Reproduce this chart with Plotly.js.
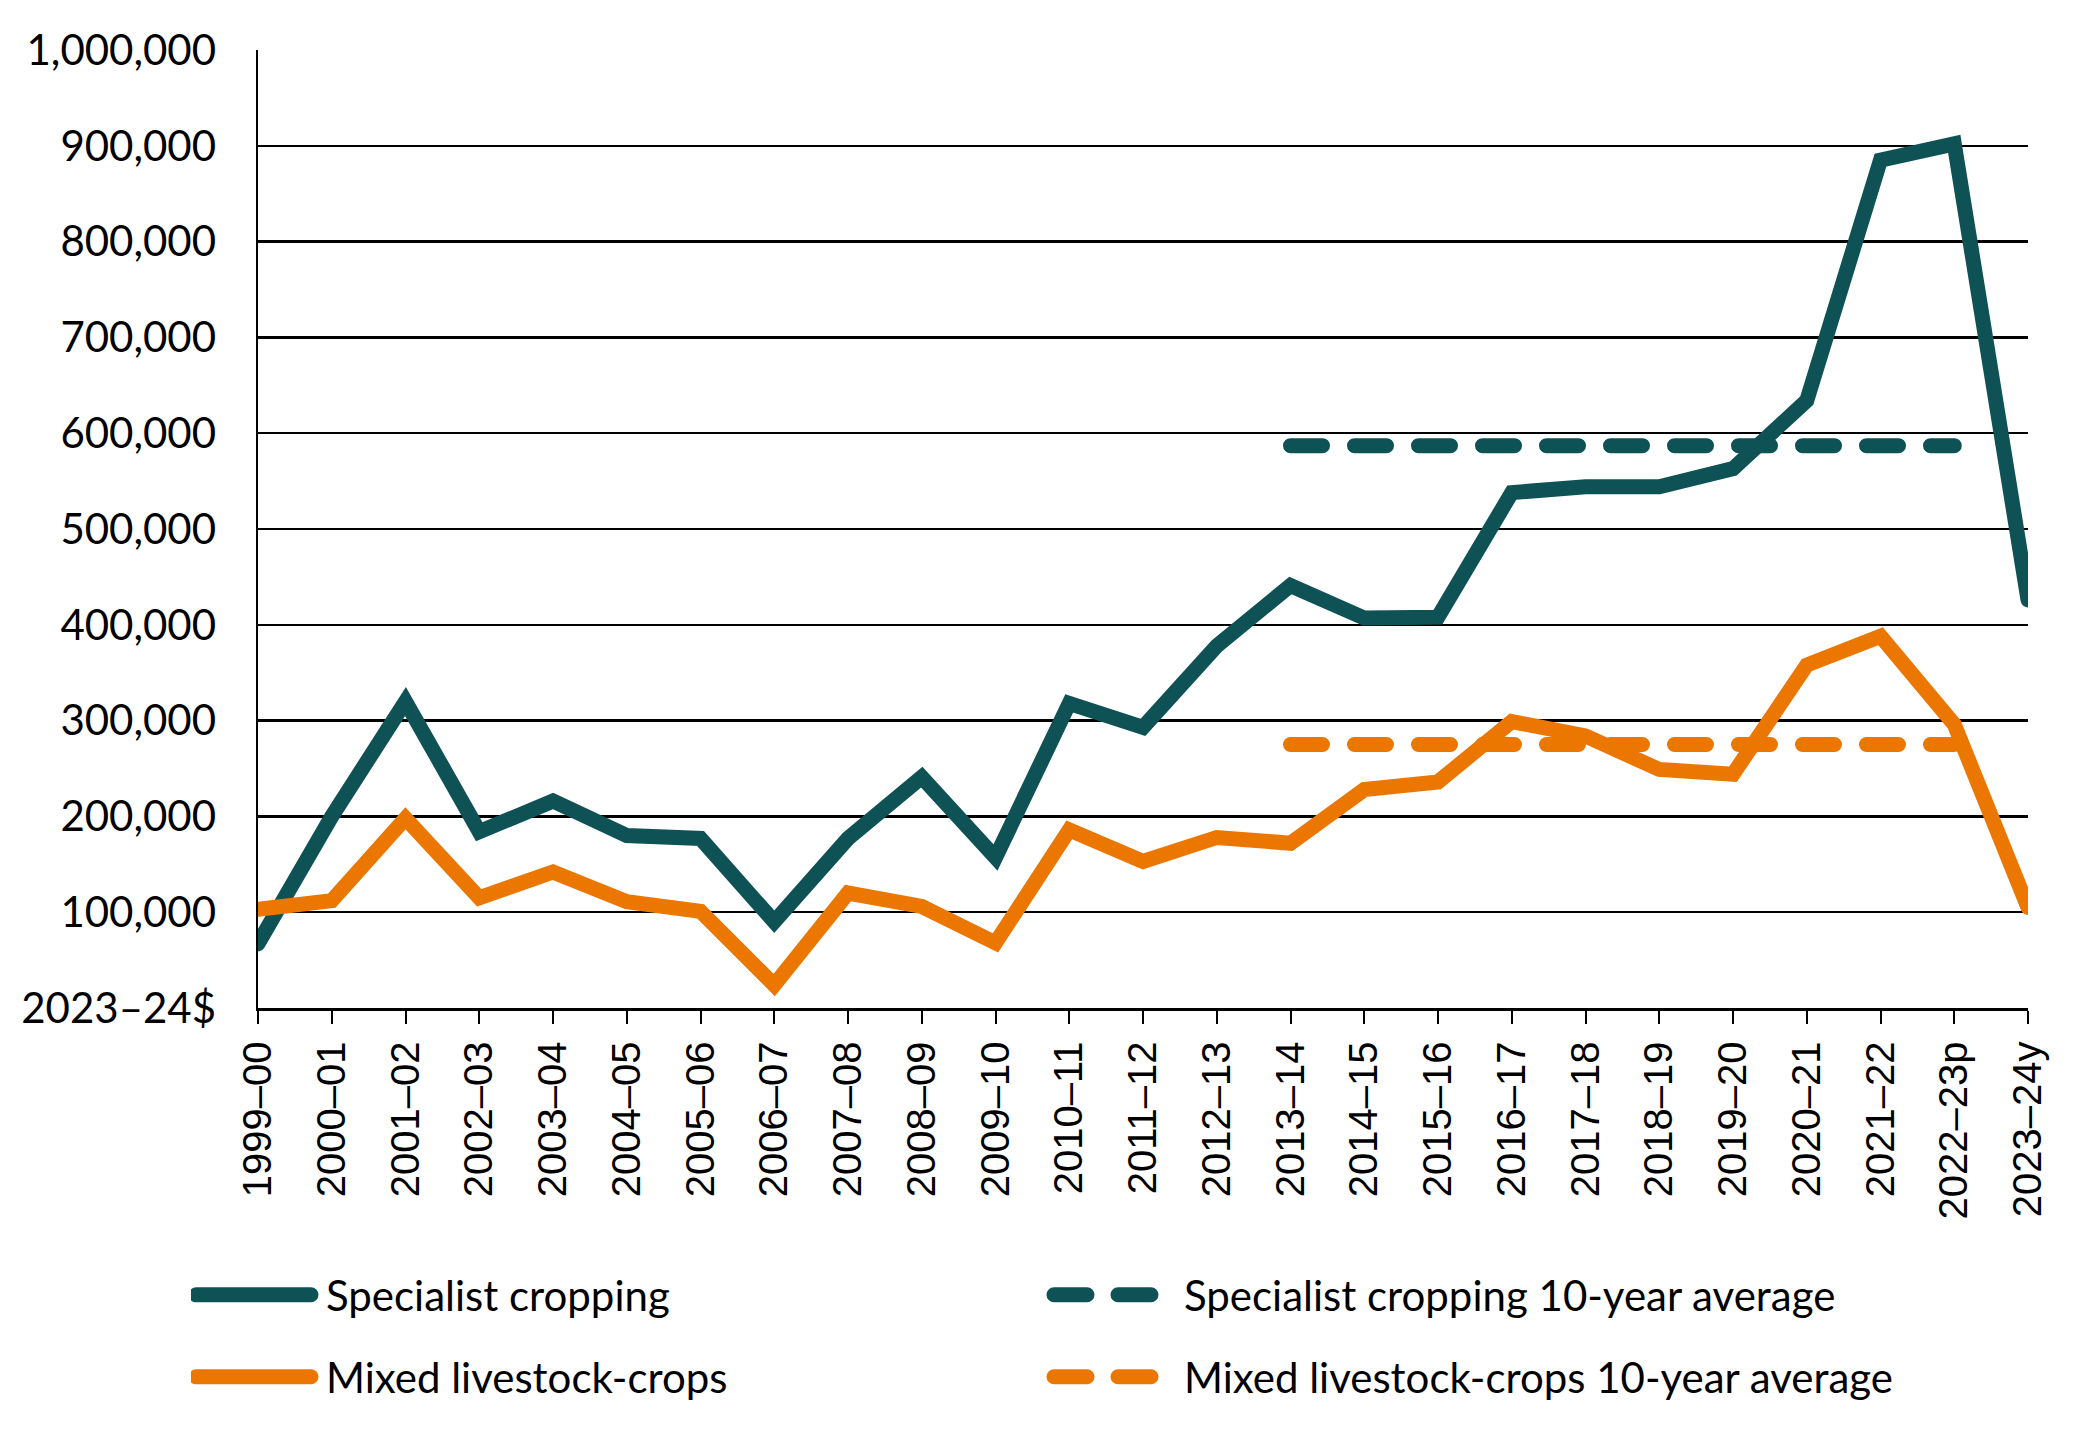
<!DOCTYPE html>
<html>
<head>
<meta charset="utf-8">
<script src="https://cdn.plot.ly/plotly-3.0.1.min.js"></script>
<style>html,body{margin:0;padding:0;background:#fff;} #chart{width:2079px;height:1440px;}</style>
</head>
<body>
<div id="chart"></div>
<script>
const categories = ['1999–00','2000–01','2001–02','2002–03','2003–04','2004–05','2005–06','2006–07','2007–08','2008–09','2009–10','2010–11','2011–12','2012–13','2013–14','2014–15','2015–16','2016–17','2017–18','2018–19','2019–20','2020–21','2021–22','2022–23p','2023–24y'];
const specialistCropping = [67000, 200000, 320000, 184000, 216000, 180000, 177000, 90000, 177000, 241000, 157000, 318000, 293000, 378000, 441000, 407000, 408000, 538000, 544000, 544000, 563000, 634000, 885000, 902000, 426000];
const mixedLivestockCrops = [103000, 112000, 198000, 115000, 142000, 111000, 101000, 24000, 120000, 106000, 68000, 186000, 153000, 178000, 172000, 228000, 236000, 299000, 284000, 249000, 244000, 358000, 388000, 296000, 105000];
const avgCategories = ['2013–14','2014–15','2015–16','2016–17','2017–18','2018–19','2019–20','2020–21','2021–22','2022–23p'];
const specialistAvg = [587000, 587000, 587000, 587000, 587000, 587000, 587000, 587000, 587000, 587000];
const mixedAvg = [275000, 275000, 275000, 275000, 275000, 275000, 275000, 275000, 275000, 275000];
const yTickVals = [0, 100000, 200000, 300000, 400000, 500000, 600000, 700000, 800000, 900000, 1000000];
const yTickText = ['2023–24$', '100,000', '200,000', '300,000', '400,000', '500,000', '600,000', '700,000', '800,000', '900,000', '1,000,000'];

const TEAL = '#0F5256';
const ORANGE = '#EB7600';
const LW = 15;
const DASH = '32px,32px';

const traces = [
  {x: categories, y: specialistCropping, name: 'Specialist cropping', type: 'scatter', mode: 'lines',
   line: {color: TEAL, width: LW}, legend: 'legend', hoverinfo: 'skip'},
  {x: avgCategories, y: specialistAvg, name: 'Specialist cropping 10-year average', type: 'scatter', mode: 'lines',
   line: {color: TEAL, width: LW, dash: DASH}, legend: 'legend', hoverinfo: 'skip'},
  {x: categories, y: mixedLivestockCrops, name: 'Mixed livestock-crops', type: 'scatter', mode: 'lines',
   line: {color: ORANGE, width: LW}, legend: 'legend2', hoverinfo: 'skip'},
  {x: avgCategories, y: mixedAvg, name: 'Mixed livestock-crops 10-year average', type: 'scatter', mode: 'lines',
   line: {color: ORANGE, width: LW, dash: DASH}, legend: 'legend2', hoverinfo: 'skip'}
];

const legendCommon = {
  orientation: 'h', xref: 'container', yref: 'container', xanchor: 'left', yanchor: 'middle',
  x: 191/2079, entrywidth: 718, entrywidthmode: 'pixels', itemwidth: 125,
  font: {family: 'Lato', size: 42, color: '#000'}, bgcolor: 'rgba(0,0,0,0)', traceorder: 'normal'
};

const layout = {
  width: 2079, height: 1440,
  margin: {l: 258, r: 51, t: 50, b: 432},
  paper_bgcolor: '#fff', plot_bgcolor: '#fff',
  showlegend: true,
  xaxis: {
    type: 'category', categoryorder: 'array', categoryarray: categories,
    range: [0, 24], showgrid: false, zeroline: false,
    showline: true, linecolor: '#000', linewidth: 2.5,
    ticks: 'outside', ticklen: 13, tickwidth: 2, tickcolor: '#000',
    tickangle: -90, ticklabelstandoff: 2,
    tickfont: {family: 'Liberation Sans, Arial, sans-serif', size: 40, color: '#000'}
  },
  yaxis: {
    range: [0, 1000000], tickmode: 'array', tickvals: yTickVals, ticktext: yTickText,
    showgrid: true, gridcolor: '#000', gridwidth: 2.5, zeroline: false,
    showline: true, linecolor: '#000', linewidth: 2.5, ticks: '',
    ticklabelstandoff: 31,
    tickfont: {family: 'Lato', size: 42, color: '#000'}
  },
  legend: Object.assign({}, legendCommon, {y: 1 - 1295/1440}),
  legend2: Object.assign({}, legendCommon, {y: 1 - 1377/1440})
};

Plotly.newPlot('chart', traces, layout, {displayModeBar: false, staticPlot: true}).then(function(gd) {
  gd.querySelectorAll('.scatterlayer path.js-line').forEach(function(p) {
    p.style.strokeLinecap = 'round';
  });
  gd.querySelectorAll('.legendlines path.js-line').forEach(function(p) {
    p.style.strokeLinecap = 'round';
    p.style.strokeWidth = LW + 'px';
    const dash = p.style.strokeDasharray;
    if (dash && dash !== 'none' && dash !== '') {
      p.style.strokeDasharray = '33px,31px';
      p.setAttribute('d', 'M5,0h97');
    } else {
      p.setAttribute('d', 'M5,0h115');
    }
  });
});
</script>
</body>
</html>
